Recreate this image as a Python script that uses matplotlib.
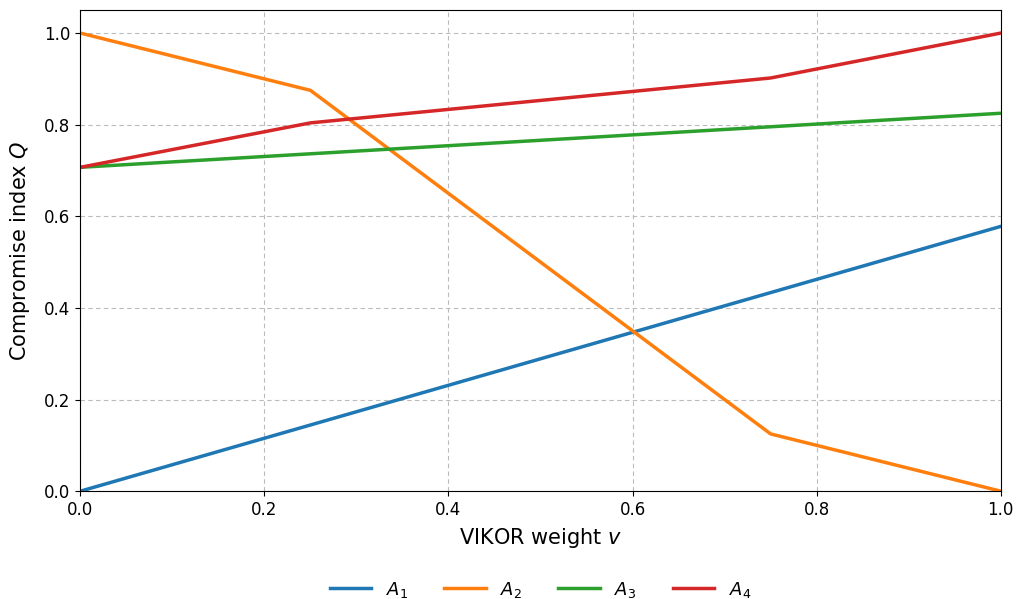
import matplotlib.pyplot as plt

v = [0.0, 0.25, 0.75, 1.0]
A1 = [0.0, 0.1445, 0.4335, 0.578]
A2 = [1.0, 0.875, 0.125, 0.0]
A3 = [0.707, 0.7365, 0.7955, 0.825]
A4 = [0.707, 0.804, 0.902, 1.0]

series = [A1, A2, A3, A4]
labels = [r'$A_1$', r'$A_2$', r'$A_3$', r'$A_4$']
colors = ['#1f77b4', '#ff7f0e', '#2ca02c', '#d62728']

fig, ax = plt.subplots(figsize=(10.17, 5.99), dpi=100)
for ys, lab, c in zip(series, labels, colors):
    ax.plot(v, ys, color=c, lw=2.5, label=lab)

ax.set_xlim(0, 1)
ax.set_ylim(0, 1.05)
ax.set_xlabel(r'VIKOR weight $v$', fontsize=15, labelpad=5)
ax.set_ylabel(r'Compromise index $Q$', fontsize=15, labelpad=9)
ax.tick_params(labelsize=12)
ax.grid(True, ls=(0, (4, 3)), color='#bbbbbb', lw=0.8)
ax.legend(loc='upper center', bbox_to_anchor=(0.5, -0.15), ncol=4, frameon=False,
          fontsize=13, handlelength=2.3)

fig.subplots_adjust(left=0.079, right=0.984, top=0.983, bottom=0.18)
fig.savefig('out.png')
